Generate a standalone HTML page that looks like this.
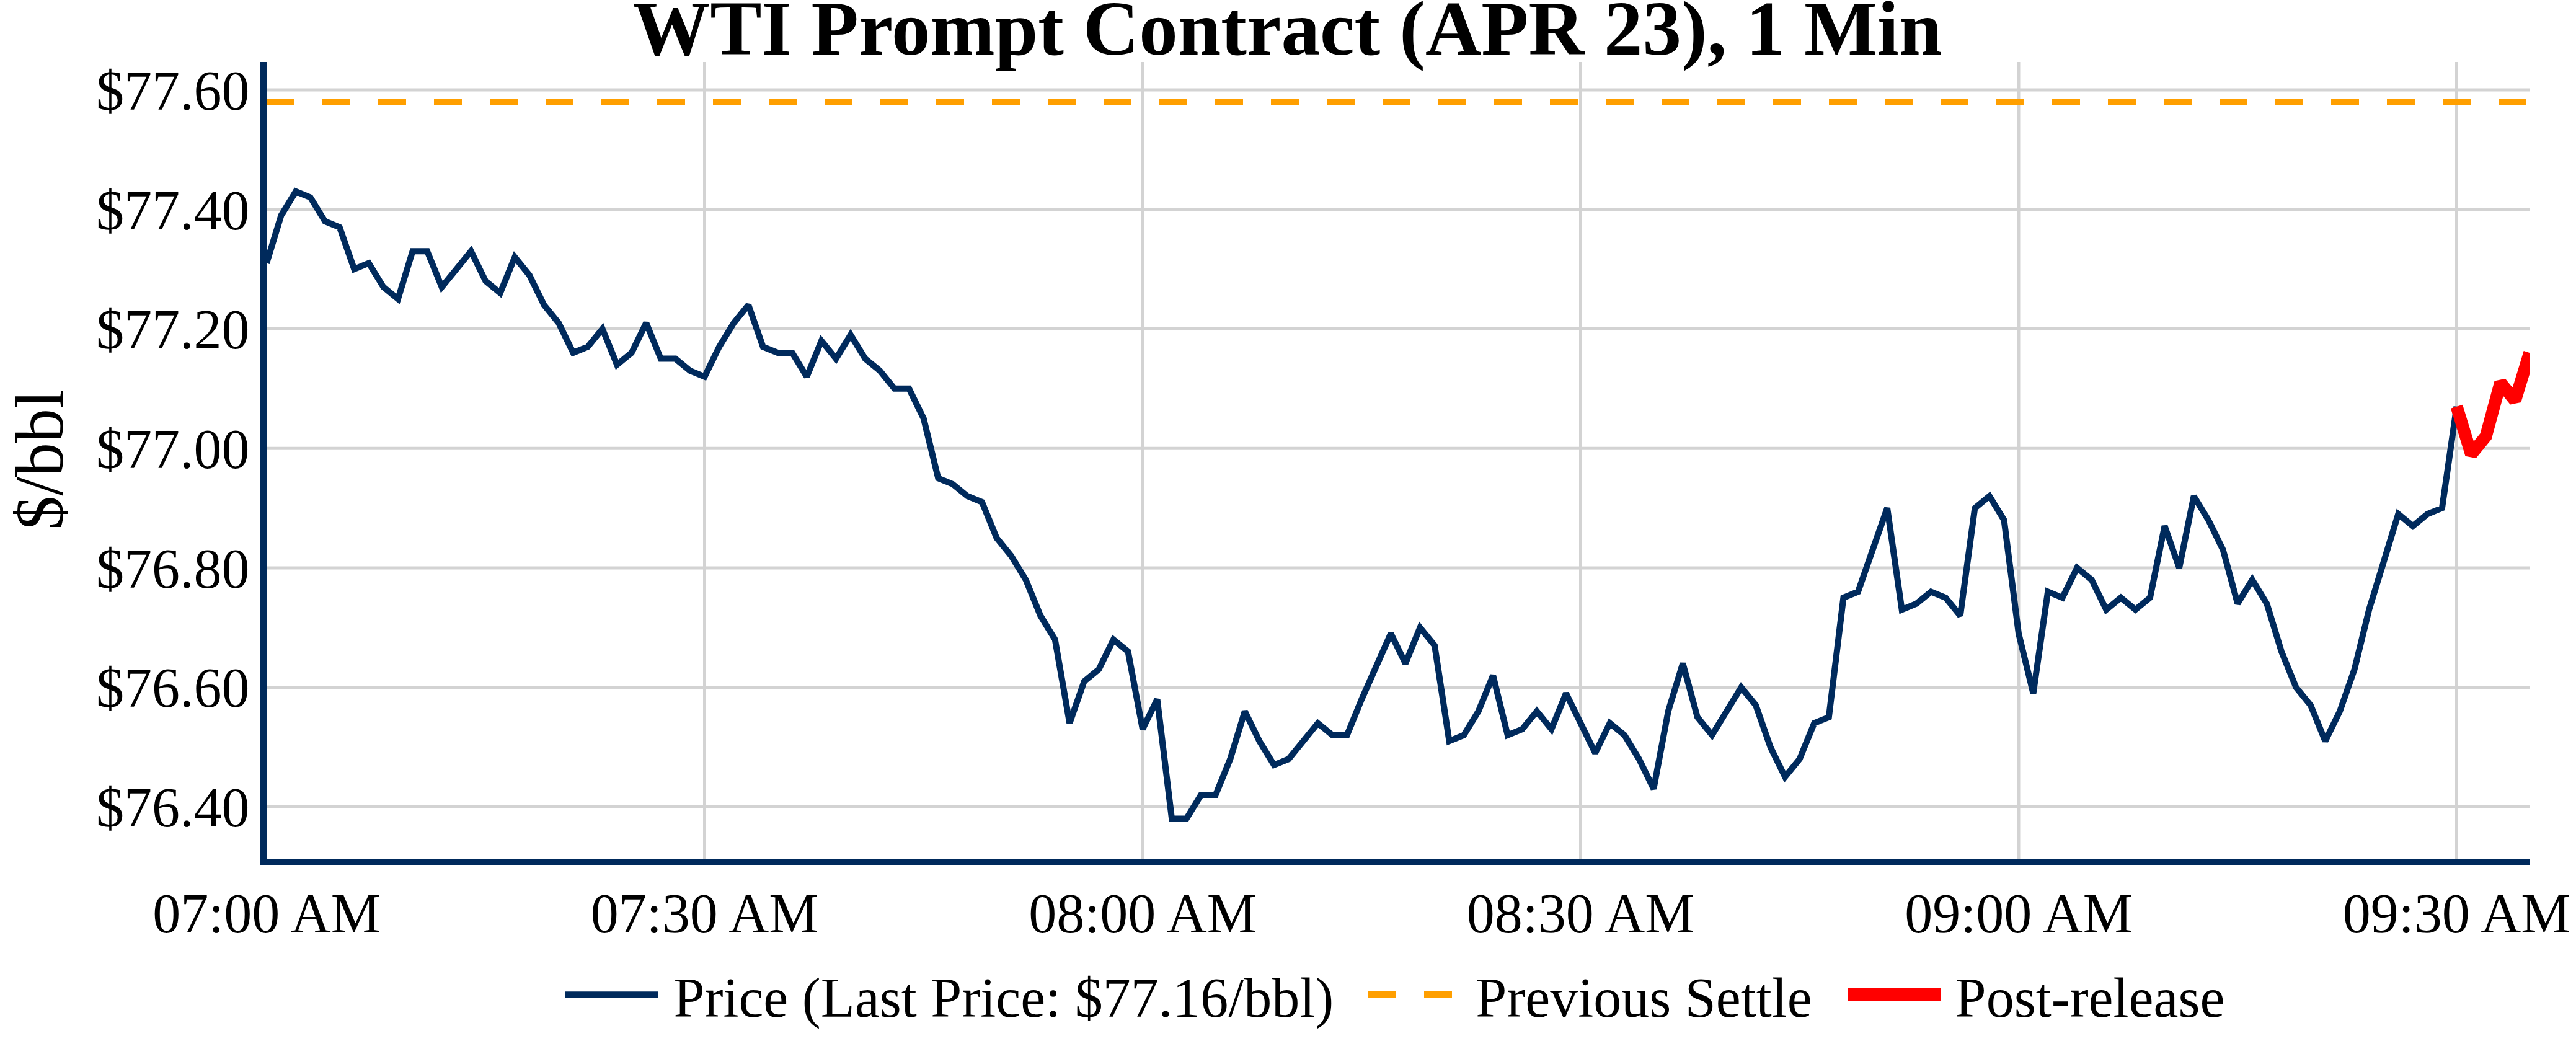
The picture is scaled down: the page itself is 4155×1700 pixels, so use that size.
<!DOCTYPE html>
<html><head><meta charset="utf-8"><style>
html,body{margin:0;padding:0;background:#fff;}
svg{display:block;}
text{font-family:"Liberation Serif", serif;}
</style></head><body>
<svg width="4155" height="1700" viewBox="0 0 4155 1700">
<rect x="0" y="0" width="4155" height="1700" fill="#fff"/>
<g stroke="#d3d3d3" stroke-width="5" fill="none"><line x1="430" y1="145.00" x2="4080" y2="145.00"/><line x1="430" y1="337.72" x2="4080" y2="337.72"/><line x1="430" y1="530.44" x2="4080" y2="530.44"/><line x1="430" y1="723.16" x2="4080" y2="723.16"/><line x1="430" y1="915.88" x2="4080" y2="915.88"/><line x1="430" y1="1108.60" x2="4080" y2="1108.60"/><line x1="430" y1="1301.32" x2="4080" y2="1301.32"/><line x1="1136.50" y1="100" x2="1136.50" y2="1385"/><line x1="1843.00" y1="100" x2="1843.00" y2="1385"/><line x1="2549.50" y1="100" x2="2549.50" y2="1385"/><line x1="3256.00" y1="100" x2="3256.00" y2="1385"/><line x1="3962.50" y1="100" x2="3962.50" y2="1385"/></g>
<defs><clipPath id="pc"><rect x="430" y="100" width="3650" height="1285"/></clipPath></defs>
<g clip-path="url(#pc)"><line x1="430" y1="164.27" x2="4080" y2="164.27" stroke="#ff9f00" stroke-width="10" stroke-dasharray="45,45"/><polyline fill="none" stroke="#002a5c" stroke-width="10" stroke-linejoin="miter" stroke-miterlimit="2" points="430.00,424.44 453.55,347.36 477.10,308.81 500.65,318.45 524.20,356.99 547.75,366.63 571.30,434.08 594.85,424.44 618.40,462.99 641.95,482.26 665.50,405.17 689.05,405.17 712.60,462.99 736.15,434.08 759.70,405.17 783.25,453.35 806.80,472.62 830.35,414.81 853.90,443.72 877.45,491.90 901.00,520.80 924.55,568.98 948.10,559.35 971.65,530.44 995.20,588.26 1018.75,568.98 1042.30,520.80 1065.85,578.62 1089.40,578.62 1112.95,597.89 1136.50,607.53 1160.05,559.35 1183.60,520.80 1207.15,491.90 1230.70,559.35 1254.25,568.98 1277.80,568.98 1301.35,607.53 1324.90,549.71 1348.45,578.62 1372.00,540.08 1395.55,578.62 1419.10,597.89 1442.65,626.80 1466.20,626.80 1489.75,674.98 1513.30,771.34 1536.85,780.98 1560.40,800.25 1583.95,809.88 1607.50,867.70 1631.05,896.61 1654.60,935.15 1678.15,992.97 1701.70,1031.51 1725.25,1166.42 1748.80,1098.96 1772.35,1079.69 1795.90,1031.51 1819.45,1050.78 1843.00,1176.05 1866.55,1127.87 1890.10,1320.59 1913.65,1320.59 1937.20,1282.05 1960.75,1282.05 1984.30,1224.23 2007.85,1147.14 2031.40,1195.32 2054.95,1233.87 2078.50,1224.23 2102.05,1195.32 2125.60,1166.42 2149.15,1185.69 2172.70,1185.69 2196.25,1127.87 2219.80,1074.87 2243.35,1021.88 2266.90,1070.06 2290.45,1012.24 2314.00,1041.15 2337.55,1195.32 2361.10,1185.69 2384.65,1147.14 2408.20,1089.33 2431.75,1185.69 2455.30,1176.05 2478.85,1147.14 2502.40,1176.05 2525.95,1118.24 2549.50,1166.42 2573.05,1214.60 2596.60,1166.42 2620.15,1185.69 2643.70,1224.23 2667.25,1272.41 2690.80,1147.14 2714.35,1070.06 2737.90,1156.78 2761.45,1185.69 2785.00,1147.14 2808.55,1108.60 2832.10,1137.51 2855.65,1204.96 2879.20,1253.14 2902.75,1224.23 2926.30,1166.42 2949.85,1156.78 2973.40,964.06 2996.95,954.42 3020.50,886.97 3044.05,819.52 3067.60,983.33 3091.15,973.70 3114.70,954.42 3138.25,964.06 3161.80,992.97 3185.35,819.52 3208.90,800.25 3232.45,838.79 3256.00,1021.88 3279.55,1118.24 3303.10,954.42 3326.65,964.06 3350.20,915.88 3373.75,935.15 3397.30,983.33 3420.85,964.06 3444.40,983.33 3467.95,964.06 3491.50,848.43 3515.05,915.88 3538.60,800.25 3562.15,838.79 3585.70,886.97 3609.25,973.70 3632.80,935.15 3656.35,973.70 3679.90,1050.78 3703.45,1108.60 3727.00,1137.51 3750.55,1195.32 3774.10,1147.14 3797.65,1079.69 3821.20,983.33 3844.75,906.24 3868.30,829.16 3891.85,848.43 3915.40,829.16 3938.95,819.52 3962.50,655.71"/><polyline fill="none" stroke="#ff0000" stroke-width="20" stroke-linejoin="miter" stroke-miterlimit="2" points="3962.50,655.71 3986.05,732.80 4009.60,703.89 4033.15,617.16 4056.70,646.07 4080.25,568.98"/></g>
<line x1="425" y1="100" x2="425" y2="1395" stroke="#002a5c" stroke-width="10"/><line x1="420" y1="1390" x2="4080" y2="1390" stroke="#002a5c" stroke-width="10"/>
<g font-size="90" fill="#000"><text x="402.4" y="176.80" text-anchor="end">$77.60</text><text x="402.4" y="369.52" text-anchor="end">$77.40</text><text x="402.4" y="562.24" text-anchor="end">$77.20</text><text x="402.4" y="754.96" text-anchor="end">$77.00</text><text x="402.4" y="947.68" text-anchor="end">$76.80</text><text x="402.4" y="1140.40" text-anchor="end">$76.60</text><text x="402.4" y="1333.12" text-anchor="end">$76.40</text><text x="430.00" y="1503.8" text-anchor="middle">07:00 AM</text><text x="1136.50" y="1503.8" text-anchor="middle">07:30 AM</text><text x="1843.00" y="1503.8" text-anchor="middle">08:00 AM</text><text x="2549.50" y="1503.8" text-anchor="middle">08:30 AM</text><text x="3256.00" y="1503.8" text-anchor="middle">09:00 AM</text><text x="3962.50" y="1503.8" text-anchor="middle">09:30 AM</text></g>
<text font-size="110" transform="translate(100.5,741.6) rotate(-90)" text-anchor="middle">$/bbl</text>
<text x="2076.2" y="87.8" font-size="125" font-weight="bold" text-anchor="middle">WTI Prompt Contract (APR 23), 1 Min</text>
<line x1="912" y1="1604.3" x2="1062" y2="1604.3" stroke="#002a5c" stroke-width="10"/><text x="1086.4" y="1640.2" font-size="90">Price (Last Price: $77.16/bbl)</text>
<line x1="2207" y1="1604" x2="2357" y2="1604" stroke="#ff9f00" stroke-width="10" stroke-dasharray="45,45"/><text x="2380.3" y="1640.2" font-size="90">Previous Settle</text>
<line x1="2980" y1="1604" x2="3130" y2="1604" stroke="#ff0000" stroke-width="20"/><text x="3153.6" y="1640.2" font-size="90">Post-release</text>
</svg>
</body></html>
